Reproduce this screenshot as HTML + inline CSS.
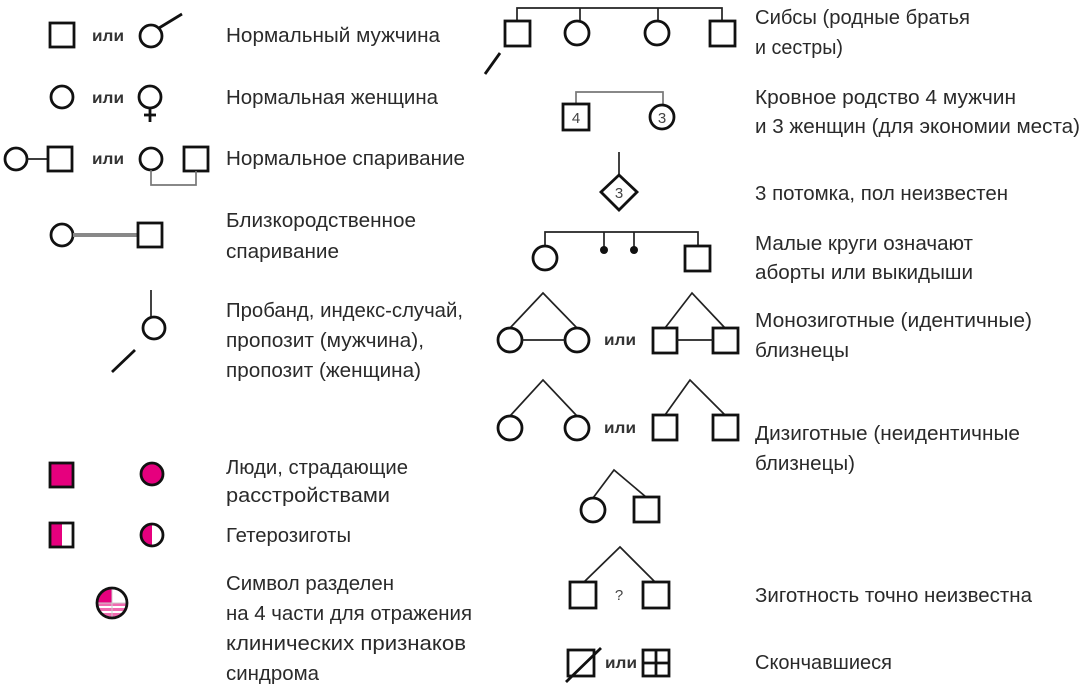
<!DOCTYPE html>
<html><head><meta charset="utf-8"><style>
html,body{margin:0;padding:0;background:#fff;}
svg{display:block}
text{font-family:"Liberation Sans","DejaVu Sans",sans-serif;font-size:20px;fill:#2a2a2a;}
.s{fill:none;stroke:#111;stroke-width:2.8}
.l{fill:none;stroke:#222;stroke-width:1.7}
.g{fill:none;stroke:#777;stroke-width:1.7}
.sm{font-size:16px;fill:#333;font-weight:bold}
.n{font-size:15px;fill:#444}
</style></head><body>
<svg width="1080" height="691" viewBox="0 0 1080 691" xmlns="http://www.w3.org/2000/svg">
<defs><clipPath id="cc"><circle cx="112" cy="603" r="15"/></clipPath></defs>
<rect class="s" x="50" y="23" width="24" height="24"/>
<text class="sm" x="92" y="41" textLength="32" lengthAdjust="spacingAndGlyphs">или</text>
<circle class="s" cx="151" cy="36" r="11"/>
<line class="s" x1="159" y1="28" x2="182" y2="14"/>
<text x="226" y="42" textLength="214" lengthAdjust="spacingAndGlyphs">Нормальный мужчина</text>

<circle class="s" cx="62" cy="97" r="11"/>
<text class="sm" x="92" y="103" textLength="32" lengthAdjust="spacingAndGlyphs">или</text>
<circle class="s" cx="150" cy="97" r="11"/>
<line class="s" x1="150" y1="108" x2="150" y2="122"/>
<line class="s" x1="144" y1="115" x2="156" y2="115"/>
<text x="226" y="104" textLength="212" lengthAdjust="spacingAndGlyphs">Нормальная женщина</text>

<circle class="s" cx="16" cy="159" r="11"/>
<line class="l" x1="27" y1="159" x2="48" y2="159"/>
<rect class="s" x="48" y="147" width="24" height="24"/>
<text class="sm" x="92" y="164" textLength="32" lengthAdjust="spacingAndGlyphs">или</text>
<circle class="s" cx="151" cy="159" r="11"/>
<rect class="s" x="184" y="147" width="24" height="24"/>
<polyline class="g" points="151,170 151,185 196,185 196,171"/>
<text x="226" y="165" textLength="239" lengthAdjust="spacingAndGlyphs">Нормальное спаривание</text>

<circle class="s" cx="62" cy="235" r="11"/>
<line x1="73" y1="235" x2="138" y2="235" stroke="#888" stroke-width="4"/>
<rect class="s" x="138" y="223" width="24" height="24"/>
<text x="226" y="227" textLength="190" lengthAdjust="spacingAndGlyphs">Близкородственное</text>
<text x="226" y="258" textLength="113" lengthAdjust="spacingAndGlyphs">спаривание</text>

<line class="l" x1="151" y1="290" x2="151" y2="317"/>
<circle class="s" cx="154" cy="328" r="11"/>
<line class="s" x1="112" y1="372" x2="135" y2="350"/>
<text x="226" y="317" textLength="237" lengthAdjust="spacingAndGlyphs">Пробанд, индекс-случай,</text>
<text x="226" y="347" textLength="198" lengthAdjust="spacingAndGlyphs">пропозит (мужчина),</text>
<text x="226" y="377" textLength="195" lengthAdjust="spacingAndGlyphs">пропозит (женщина)</text>

<rect x="50" y="463" width="23" height="24" fill="#e6007e" stroke="#111" stroke-width="2.8"/>
<circle cx="152" cy="474" r="11" fill="#e6007e" stroke="#111" stroke-width="2.8"/>
<text x="226" y="474" textLength="182" lengthAdjust="spacingAndGlyphs">Люди, страдающие</text>
<text x="226" y="502" textLength="164" lengthAdjust="spacingAndGlyphs">расстройствами</text>

<rect x="50" y="523" width="12" height="24" fill="#e6007e"/>
<rect class="s" x="50" y="523" width="23" height="24"/>
<path d="M152,524 A11,11 0 0 0 152,546 Z" fill="#e6007e"/>
<circle class="s" cx="152" cy="535" r="11"/>
<text x="226" y="542" textLength="125" lengthAdjust="spacingAndGlyphs">Гетерозиготы</text>

<g clip-path="url(#cc)">
<rect x="96" y="588" width="16" height="15" fill="#e6007e"/>
<rect x="96" y="603" width="32" height="16" fill="#f06ab0"/>
<line x1="96" y1="607" x2="128" y2="607" stroke="#fff" stroke-width="2"/>
<line x1="96" y1="612" x2="128" y2="612" stroke="#fff" stroke-width="2"/>
<line x1="112" y1="588" x2="112" y2="619" stroke="#ccc" stroke-width="1"/>
<line x1="96" y1="603" x2="128" y2="603" stroke="#ccc" stroke-width="1"/>
</g>
<circle class="s" cx="112" cy="603" r="15"/>
<text x="226" y="590" textLength="168" lengthAdjust="spacingAndGlyphs">Символ разделен</text>
<text x="226" y="620" textLength="246" lengthAdjust="spacingAndGlyphs">на 4 части для отражения</text>
<text x="226" y="650" textLength="240" lengthAdjust="spacingAndGlyphs">клинических признаков</text>
<text x="226" y="680" textLength="93" lengthAdjust="spacingAndGlyphs">синдрома</text>

<polyline class="l" points="517,20 517,8 722,8 722,20"/>
<line class="l" x1="580" y1="8" x2="580" y2="21"/>
<line class="l" x1="658" y1="8" x2="658" y2="21"/>
<rect class="s" x="505" y="21" width="25" height="25"/>
<circle class="s" cx="577" cy="33" r="12"/>
<circle class="s" cx="657" cy="33" r="12"/>
<rect class="s" x="710" y="21" width="25" height="25"/>
<line class="s" x1="485" y1="74" x2="500" y2="53"/>
<text x="755" y="24" textLength="215" lengthAdjust="spacingAndGlyphs">Сибсы (родные братья</text>
<text x="755" y="54" textLength="88" lengthAdjust="spacingAndGlyphs">и сестры)</text>

<polyline class="g" points="576,104 576,92 663,92 663,104"/>
<rect class="s" x="563" y="104" width="26" height="26"/>
<text class="n" x="576" y="123" text-anchor="middle">4</text>
<circle class="s" cx="662" cy="117" r="12"/>
<text class="n" x="662" y="123" text-anchor="middle">3</text>
<text x="755" y="104" textLength="261" lengthAdjust="spacingAndGlyphs">Кровное родство 4 мужчин</text>
<text x="755" y="133" textLength="325" lengthAdjust="spacingAndGlyphs">и 3 женщин (для экономии места)</text>

<line class="l" x1="619" y1="152" x2="619" y2="175"/>
<polygon class="s" points="619,175 637,192 619,210 601,192"/>
<text class="n" x="619" y="198" text-anchor="middle">3</text>
<text x="755" y="200" textLength="253" lengthAdjust="spacingAndGlyphs">3 потомка, пол неизвестен</text>

<polyline class="l" points="545,246 545,232 698,232 698,246"/>
<line class="l" x1="604" y1="232" x2="604" y2="248"/>
<line class="l" x1="634" y1="232" x2="634" y2="248"/>
<circle class="s" cx="545" cy="258" r="12"/>
<circle cx="604" cy="250" r="4" fill="#111"/>
<circle cx="634" cy="250" r="4" fill="#111"/>
<rect class="s" x="685" y="246" width="25" height="25"/>
<text x="755" y="250" textLength="218" lengthAdjust="spacingAndGlyphs">Малые круги означают</text>
<text x="755" y="279" textLength="218" lengthAdjust="spacingAndGlyphs">аборты или выкидыши</text>

<polyline class="l" points="510,328 543,293 577,328"/>
<circle class="s" cx="510" cy="340" r="12"/>
<circle class="s" cx="577" cy="340" r="12"/>
<line class="l" x1="522" y1="340" x2="565" y2="340"/>
<text class="sm" x="604" y="345" textLength="32" lengthAdjust="spacingAndGlyphs">или</text>
<polyline class="l" points="665,328 692,293 725,328"/>
<rect class="s" x="653" y="328" width="24" height="25"/>
<rect class="s" x="713" y="328" width="25" height="25"/>
<line class="l" x1="677" y1="340" x2="713" y2="340"/>
<text x="755" y="327" textLength="277" lengthAdjust="spacingAndGlyphs">Монозиготные (идентичные)</text>
<text x="755" y="357" textLength="94" lengthAdjust="spacingAndGlyphs">близнецы</text>

<polyline class="l" points="510,416 543,380 577,416"/>
<circle class="s" cx="510" cy="428" r="12"/>
<circle class="s" cx="577" cy="428" r="12"/>
<text class="sm" x="604" y="433" textLength="32" lengthAdjust="spacingAndGlyphs">или</text>
<polyline class="l" points="665,415 690,380 725,415"/>
<rect class="s" x="653" y="415" width="24" height="25"/>
<rect class="s" x="713" y="415" width="25" height="25"/>
<text x="755" y="440" textLength="265" lengthAdjust="spacingAndGlyphs">Дизиготные (неидентичные</text>
<text x="755" y="470" textLength="100" lengthAdjust="spacingAndGlyphs">близнецы)</text>

<polyline class="l" points="593,498 614,470 646,497"/>
<circle class="s" cx="593" cy="510" r="12"/>
<rect class="s" x="634" y="497" width="25" height="25"/>

<polyline class="l" points="584,582 620,547 655,582"/>
<rect class="s" x="570" y="582" width="26" height="26"/>
<rect class="s" x="643" y="582" width="26" height="26"/>
<text class="n" x="619" y="600" text-anchor="middle" fill="#666">?</text>
<text x="755" y="602" textLength="277" lengthAdjust="spacingAndGlyphs">Зиготность точно неизвестна</text>

<rect class="s" x="568" y="650" width="26" height="26"/>
<line class="s" x1="566" y1="682" x2="601" y2="648"/>
<text class="sm" x="605" y="668" textLength="32" lengthAdjust="spacingAndGlyphs">или</text>
<rect class="s" x="643" y="650" width="26" height="26"/>
<line class="s" x1="656" y1="650" x2="656" y2="676"/>
<line class="s" x1="643" y1="663" x2="669" y2="663"/>
<text x="755" y="669" textLength="137" lengthAdjust="spacingAndGlyphs">Скончавшиеся</text>
</svg>
</body></html>
